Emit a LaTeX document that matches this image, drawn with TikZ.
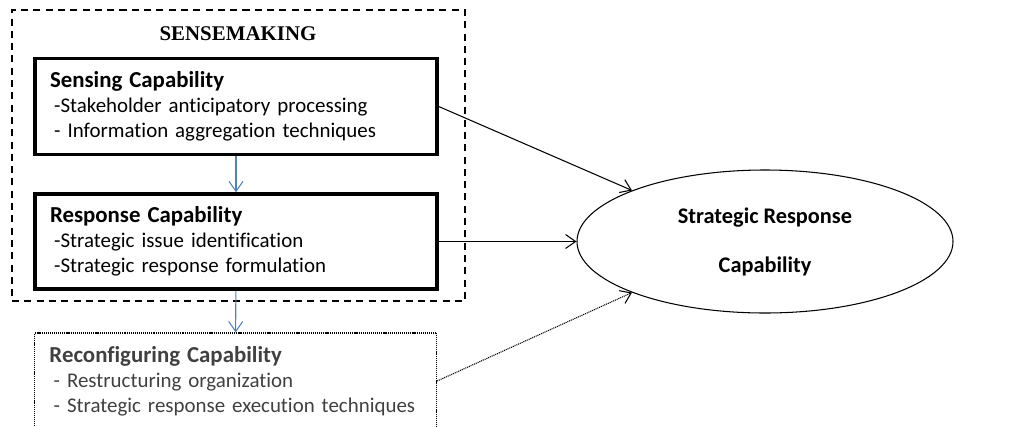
\documentclass[tikz,border=0pt]{standalone}
\usepackage{fontspec}
\setmainfont{Carlito}[Ligatures=NoCommon]
\newfontfamily\titlefont{Liberation Serif}
\usetikzlibrary{arrows.meta,shapes.geometric}

\definecolor{linkblue}{RGB}{79,129,189}
\newcommand\capname[1]{{\fontsize{13}{14.2}\selectfont\bfseries #1}}

\begin{document}
\begin{tikzpicture}[
  capbox/.style={
    draw, line width=2pt, inner xsep=0.3cm, inner ysep=0pt,
    minimum width=8.04cm, minimum height=1.92cm,
    text width=7.44cm, align=left,
    font=\fontsize{11.9}{14.2}\selectfont,
  },
  every edge/.style={draw, line width=0.6pt},
  barb/.style={-{Straight Barb[length=2mm, width=2.8mm]}},
]

  \useasboundingbox (0,0) rectangle (20.34,-8.54);

  % sensemaking frame
  \node (sense) [draw, dash pattern=on 4pt off 3pt, line width=0.6pt,
    minimum width=9.06cm, minimum height=5.82cm] at (4.77,-3.11) {};
  \node (title) at (4.76,-0.67)
    {\titlefont\fontsize{11.9}{14}\selectfont\bfseries SENSEMAKING};

  % capabilities
  \node (sensing) [capbox] at (4.72,-2.13) {%
    \capname{Sensing Capability}\\
    \hspace{0.2em}-Stakeholder anticipatory processing\\
    \hspace{0.2em}- Information aggregation techniques};

  \node (response) [capbox, minimum height=1.90cm] at (4.72,-4.83) {%
    \capname{Response Capability}\\
    \hspace{0.2em}-Strategic issue identification\\
    \hspace{0.2em}-Strategic response formulation};

  \node (reconf) [capbox, line width=0.7pt, dash pattern=on 0.6pt off 0.5pt,
    text=black!75] at (4.71,-7.62) {%
    \capname{Reconfiguring Capability}\\
    \hspace{0.2em}- Restructuring organization\\
    \hspace{0.2em}- Strategic response execution techniques};

  \node (srcap) [draw, ellipse, line width=0.6pt, minimum width=7.52cm,
    minimum height=2.86cm, align=center,
    font=\fontsize{12.7}{27.9}\selectfont\bfseries] at (15.30,-4.83)
    {Strategic Response\\Capability};

  % links
  \path [linkblue] (sensing) edge [barb] (response)
    (response) edge [barb] (reconf);
  \path (sensing.east) edge [barb] (srcap.159)
    (response.east) edge [barb] (srcap.west)
    (reconf.east) edge [barb, dash pattern=on 0.6pt off 0.5pt] (srcap.201);

\end{tikzpicture}
\end{document}
